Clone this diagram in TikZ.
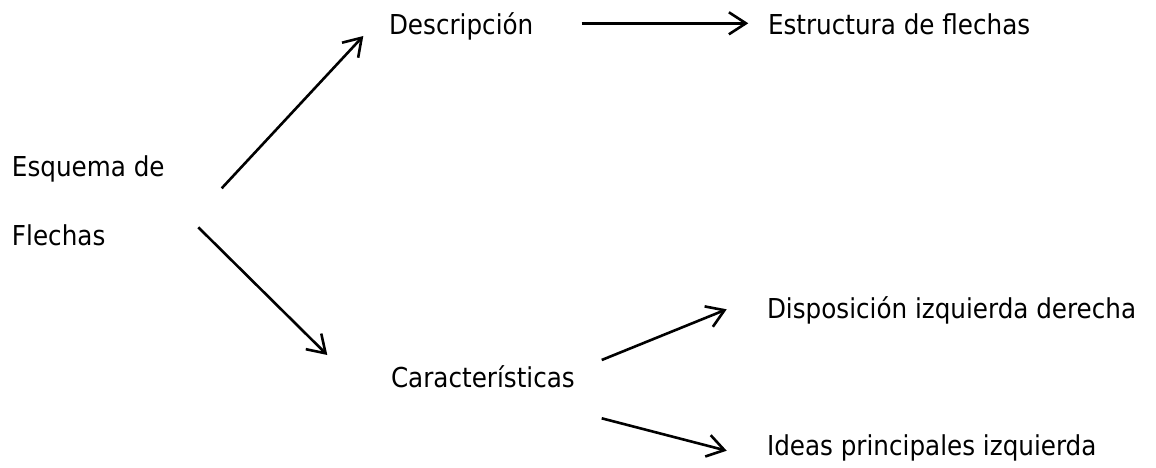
\documentclass[tikz,border=0pt]{standalone}
\usepackage{fontspec}
\setmainfont{DejaVu Sans Condensed}
\usetikzlibrary{arrows.meta}
\tikzset{
  lbl/.style={anchor=base west, inner sep=0pt, outer sep=0pt, font=\fontsize{27.4}{32}\selectfont},
  conn/.style={line width=2.6pt, -{Straight Barb[length=17pt,width=22pt,line width=2.6pt]}}
}
\begin{document}
\begin{tikzpicture}[x=1pt,y=-1pt]
\useasboundingbox (0,0) rectangle (1156,468);
\node[lbl] (esq) at (12,176) {Esquema de};
\node[lbl] (fle) at (12,245) {Flechas};
\node[lbl] (des) at (389,35) {Descripción};
\node[lbl] (est) at (768,35) {Estructura de flechas};
\node[lbl] (car) at (391,387) {Características};
\node[lbl] (dis) at (767,318) {Disposición izquierda derecha};
\node[lbl] (ide) at (767,455) {Ideas principales izquierda};
\coordinate (a1s) at (221.7,188.3);
\coordinate (a1e) at (363.3,36);
\coordinate (a2s) at (198.3,227.3);
\coordinate (a2e) at (327.3,355);
\coordinate (a3s) at (581.7,23.3);
\coordinate (a3e) at (748.3,23.3);
\coordinate (a4s) at (601.7,360);
\coordinate (a4e) at (726.7,309.3);
\coordinate (a5s) at (601.7,418.3);
\coordinate (a5e) at (726.7,450.7);
\draw[conn] (a1s) -- (a1e);
\draw[conn] (a2s) -- (a2e);
\draw[conn] (a3s) -- (a3e);
\draw[conn] (a4s) -- (a4e);
\draw[conn] (a5s) -- (a5e);
\end{tikzpicture}
\end{document}
